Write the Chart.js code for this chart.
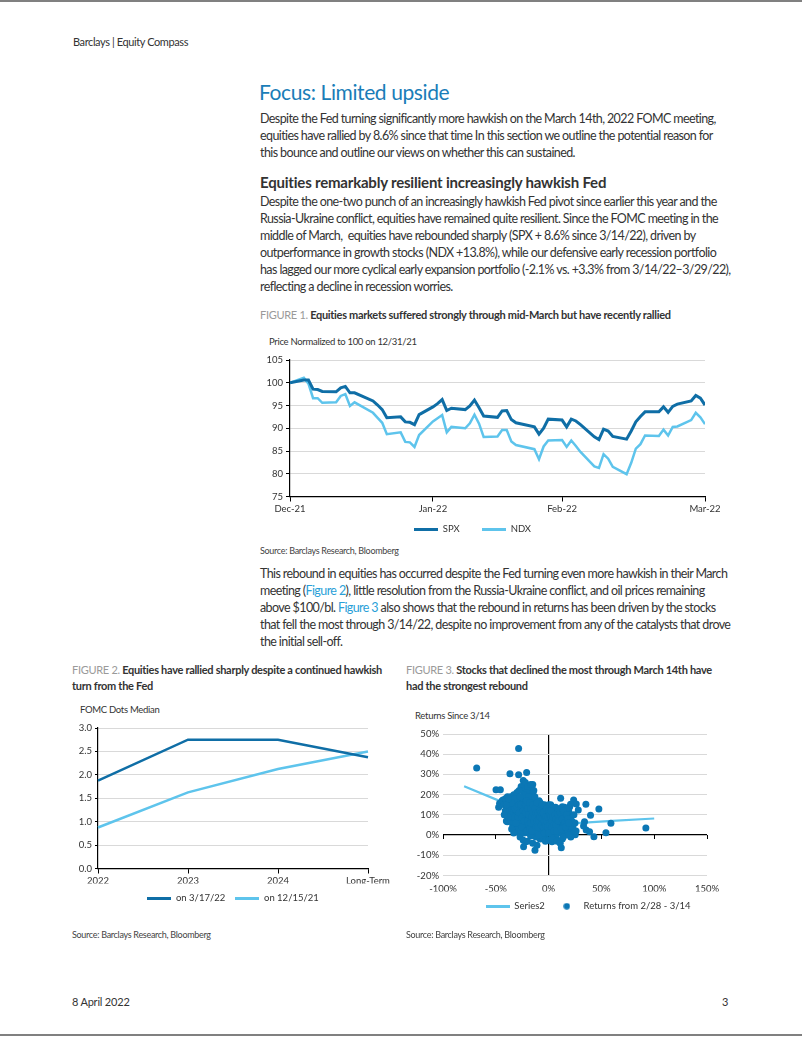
<!DOCTYPE html>
<html lang="en">
<head>
<meta charset="UTF-8" />
<title>Equity Compass - Focus: Limited upside</title>
<script src="https://cdn.jsdelivr.net/npm/chart.js"></script>
<style>
  body { margin: 0; background: #fff; font-family: Lato, sans-serif; color: #333; }
  .page { position: relative; width: 802px; height: 1037px; overflow: hidden; }
  .t { position: absolute; white-space: nowrap; }
  .rule { position: absolute; left: 0; width: 802px; height: 2px; background: #808080; }
  .body { font-size: 12.5px; line-height: 17px; color: #333; }
  .cap { font-size: 11px; line-height: 16px; font-weight: bold; letter-spacing: -0.3px; color: #333; }
  .cap span { color: #9a9a9a; font-weight: normal; }
  .small { font-size: 9px; line-height: 12px; color: #444; letter-spacing: -0.3px; }
  .axt { font-size: 9.5px; line-height: 12px; color: #333; letter-spacing: -0.3px; }
  a { color: #2a9fd8; text-decoration: none; }
  canvas { position: absolute; }
</style>
</head>
<body>
<div class="page">
  <div class="rule" style="top:0"></div>
  <div class="t" style="left:73px; top:35px; font-size:11px; letter-spacing:-0.4px;">Barclays | Equity Compass</div>

  <div class="t" style="left:259px; top:79px; font-size:21px; line-height:26px; color:#1a7db8; letter-spacing:-0.4px;">Focus: Limited upside</div>
  <div class="t body" style="left:260px; top:110px; letter-spacing:-0.6px;">
    Despite the Fed turning significantly more hawkish on the March 14th, 2022 FOMC meeting,<br>
    equities have rallied by 8.6% since that time In this section we outline the potential reason for<br>
    this bounce and outline our views on whether this can sustained.
  </div>
  <div class="t" style="left:260px; top:173px; font-size:15px; line-height:18px; font-weight:bold; letter-spacing:-0.2px;">Equities remarkably resilient increasingly hawkish Fed</div>
  <div class="t body" style="left:260px; top:193px; letter-spacing:-0.6px;">
    Despite the one-two punch of an increasingly hawkish Fed pivot since earlier this year and the<br>
    Russia-Ukraine conflict, equities have remained quite resilient. Since the FOMC meeting in the<br>
    middle of March,&nbsp; equities have rebounded sharply (SPX + 8.6% since 3/14/22), driven by<br>
    outperformance in growth stocks (NDX +13.8%), while our defensive early recession portfolio<br>
    has lagged our more cyclical early expansion portfolio (-2.1% vs. +3.3% from 3/14/22–3/29/22),<br>
    reflecting a decline in recession worries.
  </div>

  <div class="t cap" style="left:260px; top:307px;"><span>FIGURE 1.</span> Equities markets suffered strongly through mid-March but have recently rallied</div>
  <div class="t axt" style="left:269px; top:336px;">Price Normalized to 100 on 12/31/21</div>
  <canvas id="priceChart" width="485" height="194" style="left:240px; top:350px;"></canvas>
  <div class="t small" style="left:260px; top:545px;">Source: Barclays Research, Bloomberg</div>

  <div class="t body" style="left:260px; top:565px; letter-spacing:-0.6px;">
    This rebound in equities has occurred despite the Fed turning even more hawkish in their March<br>
    meeting (<a>Figure 2</a>), little resolution from the Russia-Ukraine conflict, and oil prices remaining<br>
    above $100/bl. <a>Figure 3</a> also shows that the rebound in returns has been driven by the stocks<br>
    that fell the most through 3/14/22, despite no improvement from any of the catalysts that drove<br>
    the initial sell-off.
  </div>

  <div class="t cap" style="left:72px; top:662px;"><span>FIGURE 2.</span> Equities have rallied sharply despite a continued hawkish<br>turn from the Fed</div>
  <div class="t cap" style="left:406px; top:662px;"><span>FIGURE 3.</span> Stocks that declined the most through March 14th have<br>had the strongest rebound</div>

  <div class="t axt" style="left:80px; top:704px;">FOMC Dots Median</div>
  <canvas id="dotsChart" width="346" height="195" style="left:62px; top:718px;"></canvas>

  <div class="t axt" style="left:415px; top:710px;">Returns Since 3/14</div>
  <canvas id="returnsChart" width="366" height="197" style="left:405px; top:724px;"></canvas>

  <div class="t small" style="left:72px; top:929px;">Source: Barclays Research, Bloomberg</div>
  <div class="t small" style="left:406px; top:929px;">Source: Barclays Research, Bloomberg</div>

  <div class="t" style="left:72px; top:995px; font-size:11px; letter-spacing:-0.2px;">8 April 2022</div>
  <div class="t" style="left:722px; top:995px; font-size:11px;">3</div>
  <div class="rule" style="top:1034px"></div>
</div>

<script>
// ---- Figure 1: price normalized to 100 on 12/31/21 (x = calendar days since 12/31/21)
const tradingDays = [0, 3, 4, 5, 6, 7, 10, 11, 12, 13, 14, 18, 19, 20, 21, 24, 25, 26, 27, 28, 31,
  32, 33, 34, 35, 38, 39, 40, 41, 42, 45, 46, 47, 48, 49, 53, 54, 55, 56, 59,
  60, 61, 62, 63, 66, 67, 68, 69, 70, 73, 74, 75, 76, 77, 80, 81, 82, 83, 84, 87, 88, 89, 90];
const spxValues = [100, 100.6, 100.6, 98.6, 98.5, 98.1, 98.0, 98.9, 99.2, 97.8, 97.8, 96.0, 95.1, 94.1, 92.3, 92.5, 91.4, 91.3, 90.8, 93.0, 94.7,
  95.4, 96.3, 93.9, 94.4, 94.1, 94.9, 96.2, 94.5, 92.7, 92.4, 93.8, 93.9, 91.9, 91.2, 90.3, 88.7, 90.0, 92.0, 91.8,
  90.3, 92.0, 91.6, 90.8, 88.1, 87.5, 89.8, 89.4, 88.2, 87.6, 89.4, 91.4, 92.6, 93.6, 93.6, 94.7, 93.5, 94.8, 95.3, 96.0, 97.2, 96.6, 95.1];
const ndxValues = [100, 101.1, 99.8, 96.6, 96.6, 95.6, 95.7, 97.1, 97.5, 94.9, 95.7, 93.4, 92.3, 91.2, 88.7, 89.1, 87.0, 86.9, 85.9, 88.5, 91.5,
  92.2, 92.9, 89.1, 90.3, 90.0, 91.1, 93.0, 91.0, 88.1, 88.2, 89.6, 89.6, 87.1, 86.3, 85.4, 83.2, 86.0, 87.3, 87.4,
  85.9, 87.3, 86.1, 84.8, 81.6, 81.3, 84.3, 83.3, 81.5, 79.9, 82.4, 85.5, 86.5, 88.4, 88.3, 89.7, 88.4, 90.3, 90.4, 91.8, 93.4, 92.4, 90.9];
const monthTickDays = [0, 31, 59, 90];
const monthTickLabels = ['Dec-21', 'Jan-22', 'Feb-22', 'Mar-22'];

// ---- Figure 2: FOMC dots median
const dotsYears = ['2022', '2023', '2024', 'Long-Term'];
const dotsMar22 = [1.875, 2.75, 2.75, 2.375];
const dotsDec21 = [0.875, 1.625, 2.125, 2.5];

// ---- Figure 3: returns 2/28-3/14 (x, %) vs returns since 3/14 (y, %)
const returnsPoints = [
  [-28.4, 42.8], [-68.1, 33.2], [-36.6, 30.3], [-28.4, 29.9], [-20.8, 31], [-49.8, 22.4], [-45.7, 22.4],
  [-24, 27], [-23, 25], [-16, 24], [-15, 25], [11.4, 18.2], [23.7, 17.4], [26.2, 15.4], [20.8, 15.3],
  [6.6, 13.8], [15.1, 13.8], [28.1, 12.4], [35.3, 15.3], [47.6, 12.9], [39.7, 9.8], [59, 5.8], [92.1, 3.5],
  [54.3, 1.2], [42.9, -0.8], [33.1, 4.5], [34, 6.6], [35.6, 2.5], [38.8, 1.7], [23, 0.8], [25.2, 0.2],
  [12, -6.3], [-12.9, -7.5], [-23.7, -5.8], [-21.8, -3.3], [3.2, -3.3], [-30.6, 1.7], [-29.7, 4.1],
  [-39.1, 6.6], [-47.3, 13.8], [-46.4, 15.8], [-43.2, 17.4],
  [-38, 16], [-36, 14], [-34, 17], [-33, 12], [-31, 15], [-30, 10], [-29, 13], [-28, 17], [-27, 8],
  [-26, 11], [-25, 14], [-24, 6], [-23, 18], [-22, 9], [-21, 12], [-20, 4], [-19, 15], [-18, 7],
  [-17, 10], [-16, 13], [-15, 2], [-14, 17], [-13, 5], [-12, 8], [-11, 11], [-10, 14], [-9, 3],
  [-8, 6], [-7, 9], [-6, 12], [-5, 1], [-4, 4], [-3, 7], [-2, 10], [-1, 13], [0, 5], [1, 8], [2, 2],
  [3, 11], [4, 6], [5, 9], [6, 3], [7, 12], [8, 7], [9, 4], [10, 10], [11, 1], [12, 6], [14, 9],
  [15, 3], [16, 11], [18, 5], [20, 8], [22, 2], [19, 12], [13, 14],
  [-35, 11], [-32, 8], [-29, 5], [-27, 2], [-25, 19], [-24, 16], [-22, 3], [-21, 20], [-20, 9.5],
  [-19, 1], [-18, 13], [-17, 18], [-16, 5.5], [-15, 8], [-14, 11.5], [-13, 0.5], [-12, 14.5],
  [-11, 3.5], [-10, 7], [-9, 10.5], [-8, 16], [-7, 2], [-6, 5.5], [-5, 8.5], [-4, 15], [-3, 0],
  [-2, 3.5], [-1, 6.5], [0, 9.5], [1, 12], [2, 15], [3, 0.5], [4, 3], [5, 12.5], [6, 7], [7, -1],
  [8, 10], [10, 4.5], [12, 11], [14, 6], [16, 1], [17, 8], [21, 10], [23, 4],
  [-37, 13], [-33, 15.5], [-30, 18], [-28, 3.5], [-26, 6], [-23, 13], [-21, 6.5], [-18, 10],
  [-16, 16], [-14, 3], [-12, -1], [-10, 1], [-9, 17], [-7, 14], [-5, -2], [-3, 11.5], [-1, 2],
  [0, 15], [2, 6], [4, 13.5], [6, -0.5], [9, 13], [11, 8], [13, -2], [15, 12], [18, 2], [20, 14],
  [-40, 7], [-37, 9], [-34, 5], [-31, 2.5], [-27, -1], [-24, -2.5], [-20, -3], [-17, -0.5], [-15, -4],
  [-11, -5], [-8, -2], [-6, -1], [-3, -3], [0, -2.5], [3, -1.5], [8, -3], [11, -4], [14, -1],
  [-26, 24], [-24, 22], [-22, 26], [-20, 24], [-18, 22], [-17, 25], [-15, 21], [-21, 21], [-23, 20],
  [-19, 19], [-13, 19], [-14, 22],
  [-44, 17], [-42, 15], [-41, 18], [-39, 19], [-36, 19], [-33, 20], [-30, 21], [-28, 22],
  [25, 6], [24, 10], [21, -1], [19, 0], [26, 2], [22, 7], [17, 13], [20, 4.5],
  [-36, 7], [-35, 3], [-34, 9], [-33, 1], [-32, 13], [-32, 18], [-31, 6], [-30, 14], [-29, 9],
  [-28, 11], [-28, 15], [-27, 19], [-26, 2], [-26, 15], [-25, 9], [-25, 4], [-24, 12], [-23, 7],
  [-23, 1], [-22, 15], [-22, 11], [-21, 17], [-21, 2], [-20, 13], [-20, 7], [-19, 10], [-19, 5],
  [-18, 16], [-18, 3], [-17, 13], [-17, 6], [-16, 9], [-16, 2], [-15, 15], [-15, 11], [-14, 7],
  [-13, 13], [-13, 9], [-12, 4], [-12, 11], [-11, 16], [-11, 7], [-10, 4], [-10, 11], [-9, 7],
  [-9, 0], [-8, 12], [-8, 9], [-7, 5], [-7, 11], [-6, 8], [-6, 15], [-5, 4], [-5, 11], [-4, 7],
  [-4, 1], [-3, 9], [-3, 5], [-2, 13], [-2, 7], [-1, 9], [-1, 4], [0, 12], [0, 1], [1, 5], [1, 10],
  [2, 9], [2, 12], [3, 4], [3, 7], [4, 9], [5, 5], [5, 2], [6, 10], [7, 5], [7, 8], [8, 2], [9, 7],
  [9, 10], [10, 7], [11, 11], [12, 3], [13, 8], [14, 12], [15, 6], [16, 4], [17, 10], [18, 8], [19, 6],
  [-37, 11], [-39, 13], [-38, 9], [-35, 16], [-41, 12], [-42, 10], [-40, 15], [-38, 18]
];
const trendX = [-80, -46, -25, -10, 0, 23, 60, 100];
const trendY = [24.2, 16.8, 11.5, 8, 6.6, 5.8, 7, 8.2];

const darkBlue = '#0f6ea6';
const lightBlue = '#5ec4ec';
const dotBlue = '#0b77b5';
const gridGray = '#d9d9d9';

Chart.defaults.font.family = 'Lato, sans-serif';
Chart.defaults.font.size = 9.5;
Chart.defaults.color = '#333';
Chart.defaults.animation = false;

function legendIcon(kind, color) {
  const c = document.createElement('canvas');
  const g = c.getContext('2d');
  if (kind === 'line') {
    c.width = 24; c.height = 3;
    g.fillStyle = color; g.fillRect(0, 0, 24, 3);
  } else {
    c.width = 7; c.height = 7;
    g.fillStyle = color; g.beginPath(); g.arc(3.5, 3.5, 3.2, 0, Math.PI * 2); g.fill();
  }
  return c;
}

// legend with drawn icons; extraGap pads the text of every item but the last
function legendWithIcons(icons, padding, extraGap) {
  return {
    position: 'bottom',
    labels: {
      usePointStyle: true,
      pointStyleWidth: 24,
      padding: padding,
      color: '#333',
      generateLabels(chart) {
        const items = Chart.defaults.plugins.legend.labels.generateLabels(chart);
        return items.map((item, i) => {
          item.pointStyle = icons[item.datasetIndex];
          if (extraGap && i < items.length - 1) item.text += extraGap;
          return item;
        });
      }
    }
  };
}

// Figure 1
new Chart(document.getElementById('priceChart'), {
  type: 'line',
  data: {
    datasets: [
      { label: 'SPX', data: tradingDays.map((d, i) => ({ x: d, y: spxValues[i] })),
        borderColor: darkBlue, borderWidth: 3, pointRadius: 0, tension: 0 },
      { label: 'NDX', data: tradingDays.map((d, i) => ({ x: d, y: ndxValues[i] })),
        borderColor: lightBlue, borderWidth: 2.5, pointRadius: 0, tension: 0 }
    ]
  },
  options: {
    responsive: false,
    layout: { padding: { top: 10, right: 20, left: 0, bottom: 0 } },
    plugins: {
      legend: legendWithIcons([legendIcon('line', darkBlue), legendIcon('line', lightBlue)], 8, '\u2002\u2002\u2002'),
      tooltip: { enabled: false }
    },
    scales: {
      x: {
        type: 'linear', min: 0, max: 90,
        afterBuildTicks: s => { s.ticks = monthTickDays.map(v => ({ value: v })); },
        afterFit: s => { s.height = 20; },
        ticks: { maxRotation: 0, autoSkip: false, padding: 2,
          callback: v => monthTickLabels[monthTickDays.indexOf(v)] },
        grid: { drawOnChartArea: false, tickColor: '#000', tickLength: 5 },
        border: { color: '#000', width: 1.2 }
      },
      y: {
        min: 75, max: 105,
        ticks: { stepSize: 5, padding: 3 },
        afterFit: s => { s.width = 50; },
        grid: { color: gridGray, tickColor: '#000', tickLength: 4 },
        border: { color: '#000', width: 1.2 }
      }
    }
  }
});

// Figure 2
new Chart(document.getElementById('dotsChart'), {
  type: 'line',
  data: {
    labels: dotsYears,
    datasets: [
      { label: 'on 3/17/22', data: dotsMar22, borderColor: darkBlue, borderWidth: 2.5, pointRadius: 0, tension: 0 },
      { label: 'on 12/15/21', data: dotsDec21, borderColor: lightBlue, borderWidth: 2.5, pointRadius: 0, tension: 0 }
    ]
  },
  options: {
    responsive: false,
    layout: { padding: { top: 10, right: 4, left: 0, bottom: 0 } },
    plugins: {
      legend: legendWithIcons([legendIcon('line', darkBlue), legendIcon('line', lightBlue)], 10),
      tooltip: { enabled: false }
    },
    scales: {
      x: {
        offset: false,
        afterFit: s => { s.height = 15; },
        ticks: { maxRotation: 0, autoSkip: false, padding: 2 },
        grid: { drawOnChartArea: false, tickColor: '#000', tickLength: 5 },
        border: { color: '#000', width: 1.2 }
      },
      y: {
        min: 0, max: 3,
        ticks: { stepSize: 0.5, padding: 3, callback: v => v.toFixed(1) },
        afterFit: s => { s.width = 36; },
        grid: { color: gridGray, tickColor: '#000', tickLength: 3 },
        border: { color: '#000', width: 1.2 }
      },
      pad: {
        type: 'linear', position: 'right', display: true,
        afterFit: s => { s.width = 36; },
        ticks: { display: false }, grid: { display: false }, border: { display: false }
      }
    }
  }
});

// Figure 3
new Chart(document.getElementById('returnsChart'), {
  type: 'scatter',
  data: {
    datasets: [
      { label: 'Returns from 2/28 - 3/14', data: returnsPoints.map(p => ({ x: p[0], y: p[1] })),
        backgroundColor: dotBlue, borderColor: dotBlue, borderWidth: 0, pointRadius: 3.5 },
      { label: 'Series2', type: 'line', data: trendX.map((x, i) => ({ x: x, y: trendY[i] })),
        borderColor: lightBlue, borderWidth: 2.2, pointRadius: 0, tension: 0 }
    ]
  },
  options: {
    responsive: false,
    layout: { padding: { top: 10, right: 0, left: 0, bottom: 0 } },
    plugins: {
      legend: Object.assign(legendWithIcons([legendIcon('dot', dotBlue), legendIcon('line', lightBlue)], 10), { reverse: true }),
      tooltip: { enabled: false }
    },
    scales: {
      x: {
        type: 'linear', min: -100, max: 150,
        afterFit: s => { s.height = 16; },
        ticks: { stepSize: 50, padding: 8, maxRotation: 0, callback: v => v + '%' },
        grid: { color: c => c.tick.value === 0 ? '#000' : 'rgba(0,0,0,0)', drawTicks: false, lineWidth: 1.2 },
        border: { display: false }
      },
      xZero: {
        type: 'linear', axis: 'x', position: { y: 0 }, min: -100, max: 150,
        ticks: { stepSize: 50, display: false },
        grid: { drawOnChartArea: false, tickColor: '#000', tickLength: 4 },
        border: { display: false }
      },
      y: {
        min: -20, max: 50,
        afterFit: s => { s.width = 38; },
        ticks: { stepSize: 10, padding: 4, callback: v => v + '%' },
        grid: { color: c => c.tick.value === 0 ? '#000' : gridGray, drawTicks: false, lineWidth: c => c.tick.value === 0 ? 1.2 : 1 },
        border: { display: false }
      },
      pad: {
        type: 'linear', position: 'right', display: true,
        afterFit: s => { s.width = 64; },
        ticks: { display: false }, grid: { display: false }, border: { display: false }
      }
    }
  }
});
</script>
</body>
</html>
